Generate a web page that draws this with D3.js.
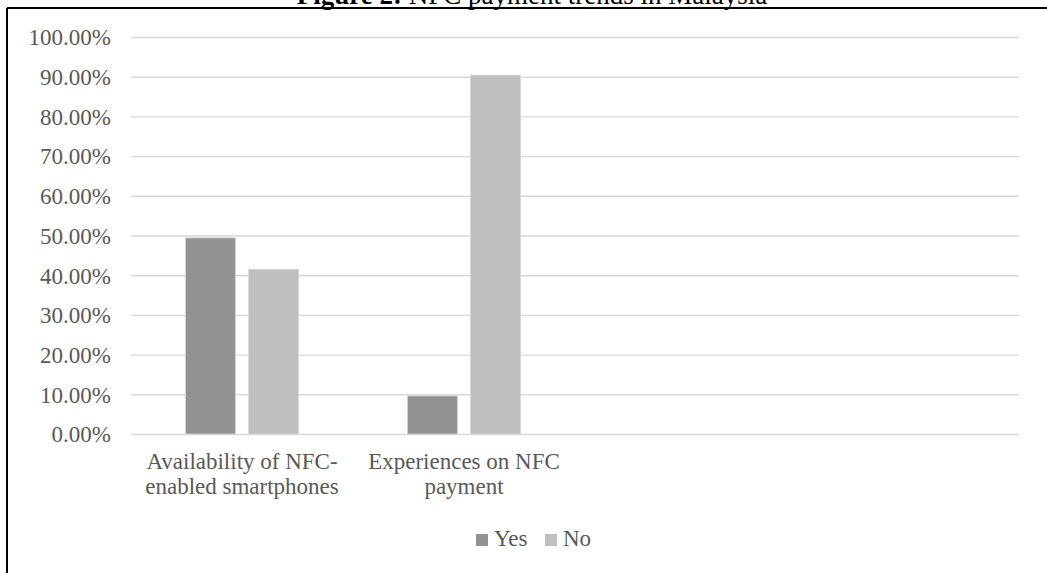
<!DOCTYPE html>
<html>
<head>
<meta charset="utf-8">
<script src="https://cdn.jsdelivr.net/npm/d3@7"></script>
<style>
  html, body { margin: 0; padding: 0; background: #fff; }
  svg { display: block; }
  text { font-family: "Liberation Serif", "Times New Roman", serif; }
</style>
</head>
<body>
<svg id="chart" width="1047" height="573"></svg>
<script>
// Survey results: NFC payment trends in Malaysia
const categories = [
  "Availability of NFC-enabled smartphones",
  "Experiences on NFC payment",
  "",
  ""
];
const seriesNames = ["Yes", "No"];
const yesValues = [49.4, 9.6, null, null];
const noValues = [41.5, 90.4, null, null];
const yTicks = [0, 10, 20, 30, 40, 50, 60, 70, 80, 90, 100];

const colors = { Yes: "#929292", No: "#bfbfbf" };

const svg = d3.select("#chart");
const W = 1047, H = 573;
const margin = { left: 131, right: 28, top: 37, bottom: 139 };
const plotW = W - margin.left - margin.right;
const plotH = H - margin.top - margin.bottom;

// Figure frame (top and left edges)
svg.append("line").attr("x1", 7).attr("x2", W).attr("y1", 8).attr("y2", 8)
  .attr("stroke", "#000").attr("stroke-width", 2);
svg.append("line").attr("x1", 7).attr("x2", 7).attr("y1", 8).attr("y2", H)
  .attr("stroke", "#000").attr("stroke-width", 2);
svg.append("line").attr("x1", 470.5).attr("x2", 470.5).attr("y1", 0).attr("y2", 8)
  .attr("stroke", "#000").attr("stroke-width", 1);

// Caption
const title = svg.append("text")
  .attr("x", 532).attr("y", 4)
  .attr("text-anchor", "middle")
  .attr("font-size", 27).attr("fill", "#000");
title.append("tspan").attr("font-weight", "bold").text("Figure 2:");
title.append("tspan").text(" NFC payment trends in Malaysia");

const g = svg.append("g").attr("transform", `translate(${margin.left},${margin.top})`);

const x0 = d3.scaleBand().domain(d3.range(categories.length)).range([0, plotW]);
const x1 = d3.scaleBand().domain(seriesNames).range([0, x0.bandwidth()])
  .paddingInner(0.206).paddingOuter(0.865);
const y = d3.scaleLinear().domain([0, 100]).range([plotH, 0]);

// Value axis with gridlines
const yAxis = d3.axisLeft(y)
  .tickValues(yTicks)
  .tickSize(-plotW)
  .tickPadding(20)
  .tickFormat(d => d.toFixed(2) + "%");
const ya = g.append("g").call(yAxis);
ya.select(".domain").remove();
ya.selectAll(".tick line").attr("stroke", "#d9d9d9").attr("stroke-width", 1.4);
ya.selectAll(".tick text")
  .attr("font-family", "'Liberation Serif', 'Times New Roman', serif")
  .attr("font-size", 23).attr("fill", "#595959").attr("dy", "0.34em");

// Bars
const rows = categories.map((c, i) => ({ i, Yes: yesValues[i], No: noValues[i] }));
const groups = g.selectAll(".cat").data(rows).join("g")
  .attr("class", "cat")
  .attr("transform", d => `translate(${x0(d.i)},0)`);
groups.selectAll("rect")
  .data(d => seriesNames.filter(s => d[s] != null).map(s => ({ s, v: d[s] })))
  .join("rect")
  .attr("x", d => x1(d.s))
  .attr("width", x1.bandwidth())
  .attr("y", d => y(d.v))
  .attr("height", d => y(0) - y(d.v))
  .attr("fill", d => colors[d.s])
  .attr("stroke", "#d6d6d6").attr("stroke-width", 0.8);

// Category labels, wrapped to the band width
function splitTokens(text) {
  const out = [];
  text.split(/\s+/).forEach(w => {
    const parts = w.split(/(?<=-)/);
    parts.forEach((p, k) => out.push({ t: p, joinNext: k < parts.length - 1 }));
  });
  return out;
}
const labelG = g.append("g").attr("transform", `translate(0,${plotH})`);
categories.forEach((c, i) => {
  if (!c) return;
  const cx = x0(i) + x0.bandwidth() / 2;
  const t = labelG.append("text")
    .attr("text-anchor", "middle")
    .attr("font-size", 23).attr("fill", "#595959");
  const tokens = splitTokens(c);
  const lines = [];
  let cur = "", prevJoin = false;
  const probe = t.append("tspan");
  tokens.forEach(tok => {
    const cand = cur === "" ? tok.t : cur + (prevJoin ? "" : " ") + tok.t;
    probe.text(cand);
    if (probe.node().getComputedTextLength() > 205 && cur !== "") {
      lines.push(cur);
      cur = tok.t;
    } else {
      cur = cand;
    }
    prevJoin = tok.joinNext;
  });
  if (cur) lines.push(cur);
  probe.remove();
  lines.forEach((ln, k) => {
    t.append("tspan").attr("x", cx).attr("y", 35 + k * 25).text(ln);
  });
});

// Legend
const legend = svg.append("g").attr("transform", "translate(476,546)");
const legItems = [{ s: "Yes", x: 0 }, { s: "No", x: 69 }];
legItems.forEach(it => {
  legend.append("rect").attr("x", it.x).attr("y", -12).attr("width", 12).attr("height", 12)
    .attr("fill", colors[it.s]);
  legend.append("text").attr("x", it.x + 18).attr("y", 0)
    .attr("font-size", 23).attr("fill", "#595959").text(it.s);
});
</script>
</body>
</html>
